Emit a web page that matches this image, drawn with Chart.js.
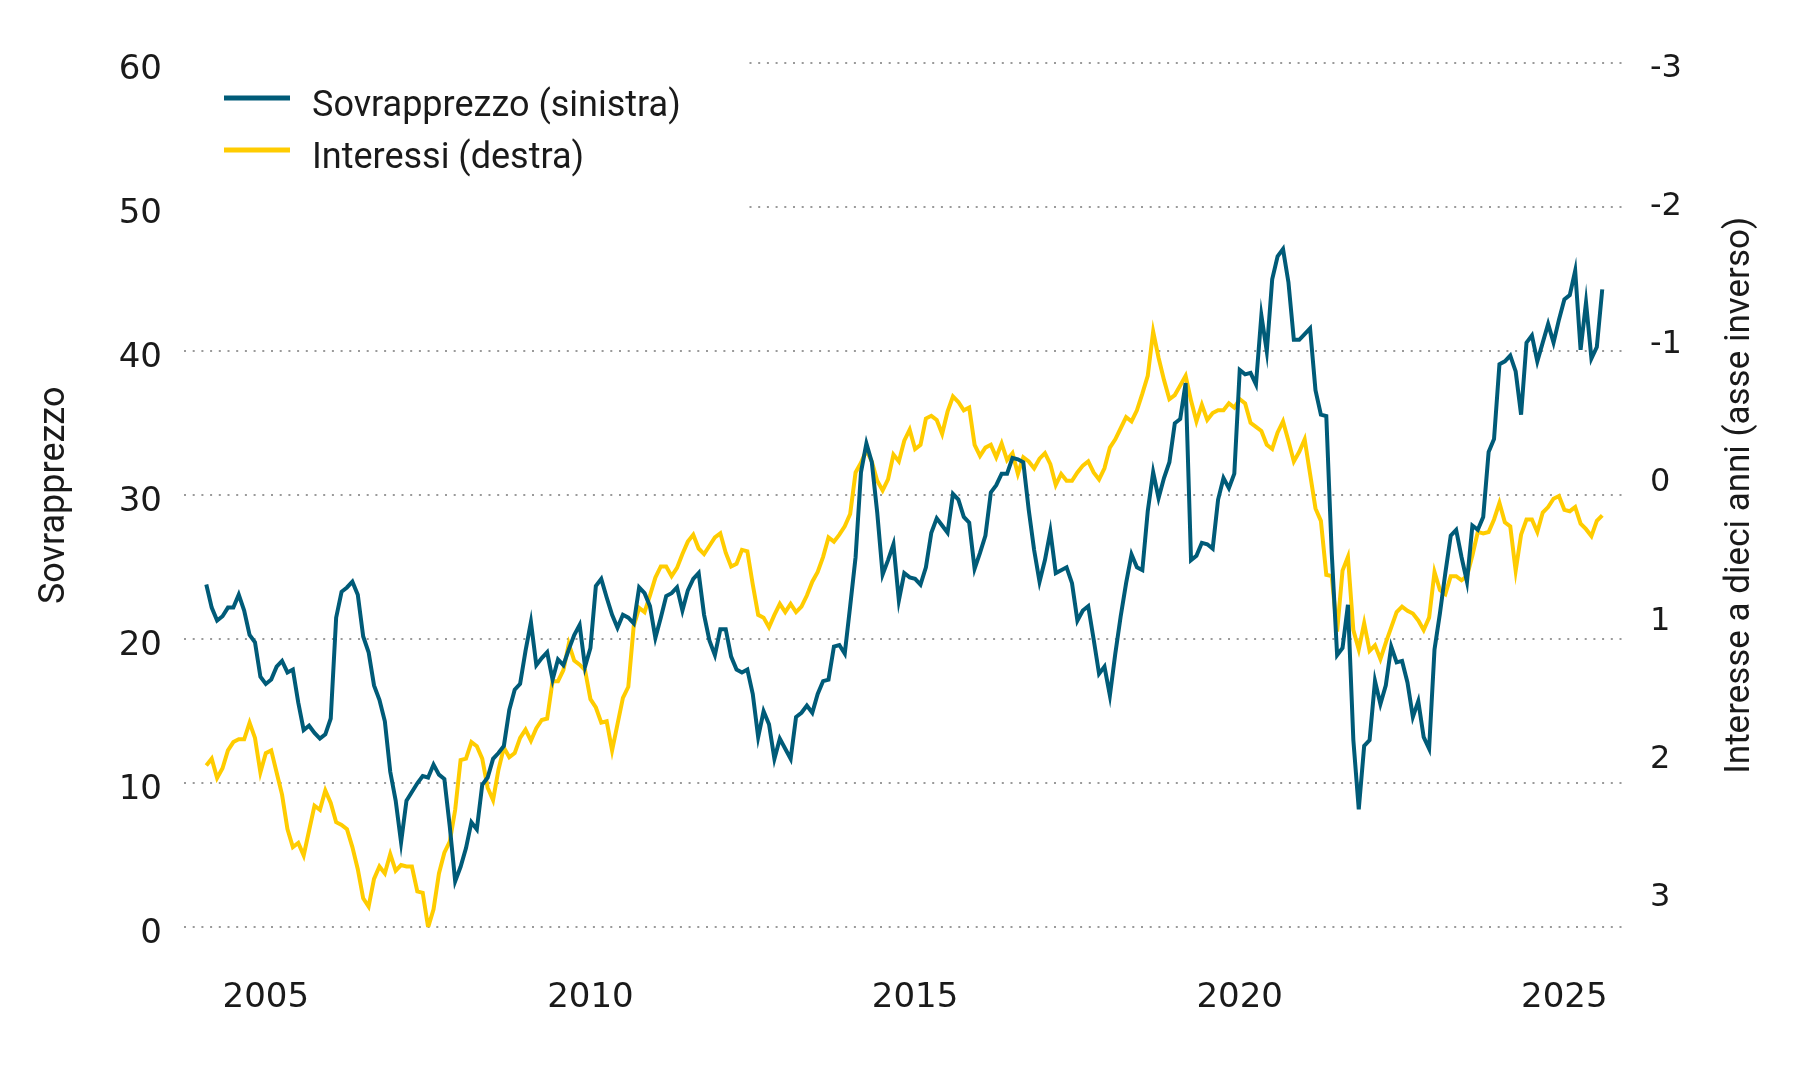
<!DOCTYPE html>
<html>
<head>
<meta charset="utf-8">
<script src="https://cdn.jsdelivr.net/npm/chart.js@4.4.1/dist/chart.umd.min.js"></script>
<style>
  html, body { margin: 0; padding: 0; background: #fff; }
</style>
</head>
<body>
<canvas id="myChart" width="1800" height="1080"></canvas>
<script>
// monthly series, Feb 2004 - Aug 2025
const startYear = 2004;
const startMonth = 2;

const sovrapprezzo = [
  23.8, 22.2, 21.3, 21.6, 22.2, 22.2, 23.1, 22.0, 20.3, 19.8, 17.4, 16.9,
  17.2, 18.1, 18.5, 17.7, 17.9, 15.6, 13.7, 14.0, 13.5, 13.1, 13.4, 14.5,
  21.5, 23.3, 23.6, 24.0, 23.1, 20.2, 19.1, 16.8, 15.8, 14.3, 10.8, 8.8,
  5.9, 8.8, 9.4, 10.0, 10.5, 10.4, 11.3, 10.6, 10.3, 7.0, 3.2, 4.2,
  5.5, 7.3, 6.8, 9.9, 10.4, 11.7, 12.1, 12.6, 15.1, 16.5, 16.9, 19.2,
  21.2, 18.2, 18.7, 19.1, 17.2, 18.6, 18.2, 19.3, 20.3, 21.0, 18.1, 19.4,
  23.7, 24.2, 22.9, 21.7, 20.8, 21.7, 21.5, 21.1, 23.6, 23.2, 22.3, 20.1,
  21.5, 23.0, 23.2, 23.6, 22.0, 23.4, 24.2, 24.6, 21.7, 19.9, 18.9, 20.7,
  20.7, 18.8, 17.9, 17.7, 17.9, 16.2, 13.2, 15.0, 14.1, 11.7, 13.1, 12.4,
  11.7, 14.6, 14.9, 15.4, 14.9, 16.2, 17.1, 17.2, 19.5, 19.6, 19.0, 22.3,
  25.7, 31.6, 33.6, 32.3, 28.8, 24.5, 25.5, 26.6, 22.7, 24.6, 24.3, 24.2,
  23.8, 25.0, 27.4, 28.4, 27.9, 27.4, 30.1, 29.7, 28.5, 28.1, 24.9, 26.0,
  27.2, 30.2, 30.7, 31.5, 31.5, 32.6, 32.5, 32.3, 29.0, 26.2, 24.0, 25.5,
  27.5, 24.6, 24.8, 25.0, 23.9, 21.3, 22.0, 22.3, 20.0, 17.6, 18.1, 16.1,
  19.0, 21.6, 23.9, 25.9, 25.0, 24.8, 28.9, 31.6, 29.8, 31.2, 32.3, 35.0,
  35.3, 37.8, 25.5, 25.8, 26.7, 26.6, 26.3, 29.7, 31.2, 30.5, 31.5, 38.7,
  38.4, 38.5, 37.7, 42.5, 40.0, 45.0, 46.6, 47.1, 44.8, 40.8, 40.8, 41.2,
  41.6, 37.3, 35.6, 35.5, 26.0, 18.9, 19.4, 22.4, 13.0, 8.2, 12.6, 13.0,
  17.1, 15.5, 16.8, 19.5, 18.4, 18.5, 17.0, 14.6, 15.7, 13.2, 12.4, 19.3,
  21.8, 24.6, 27.2, 27.6, 25.7, 24.0, 27.9, 27.6, 28.5, 33.0, 33.9, 39.1,
  39.3, 39.7, 38.6, 35.6, 40.6, 41.1, 39.3, 40.6, 41.9, 40.6, 42.2, 43.6,
  43.9, 45.6, 40.1, 43.4, 39.5, 40.3, 44.3
];

const interessi = [
  2.05, 2.00, 2.14, 2.07, 1.94, 1.88, 1.86, 1.86, 1.74, 1.85, 2.10, 1.96,
  1.94, 2.10, 2.26, 2.51, 2.64, 2.61, 2.70, 2.52, 2.34, 2.37, 2.23, 2.32,
  2.46, 2.48, 2.51, 2.64, 2.80, 3.01, 3.07, 2.87, 2.78, 2.83, 2.69, 2.81,
  2.77, 2.78, 2.78, 2.96, 2.97, 3.22, 3.09, 2.83, 2.68, 2.60, 2.37, 2.01,
  2.00, 1.88, 1.91, 2.00, 2.21, 2.30, 2.08, 1.92, 1.99, 1.96, 1.85, 1.79,
  1.87, 1.78, 1.72, 1.71, 1.44, 1.44, 1.36, 1.17, 1.29, 1.32, 1.36, 1.57,
  1.63, 1.74, 1.73, 1.94, 1.75, 1.56, 1.48, 1.04, 0.91, 0.94, 0.82, 0.69,
  0.61, 0.61, 0.68, 0.62, 0.52, 0.43, 0.38, 0.48, 0.52, 0.46, 0.40, 0.37,
  0.51, 0.61, 0.59, 0.49, 0.50, 0.74, 0.96, 0.98, 1.05, 0.96, 0.88, 0.94,
  0.88, 0.94, 0.90, 0.82, 0.72, 0.65, 0.54, 0.40, 0.43, 0.38, 0.32, 0.23,
  -0.07, -0.14, -0.23, -0.15, -0.01, 0.06, -0.02, -0.20, -0.15, -0.30, -0.38, -0.24,
  -0.27, -0.46, -0.48, -0.45, -0.35, -0.51, -0.62, -0.58, -0.52, -0.54, -0.27, -0.19,
  -0.25, -0.27, -0.18, -0.28, -0.16, -0.21, -0.06, -0.18, -0.15, -0.10, -0.17, -0.21,
  -0.13, 0.02, -0.06, -0.01, -0.01, -0.07, -0.12, -0.15, -0.07, -0.02, -0.10, -0.25,
  -0.31, -0.39, -0.47, -0.44, -0.52, -0.64, -0.77, -1.09, -0.90, -0.74, -0.60, -0.63,
  -0.70, -0.77, -0.59, -0.44, -0.56, -0.45, -0.50, -0.52, -0.52, -0.57, -0.54, -0.60,
  -0.57, -0.43, -0.40, -0.37, -0.27, -0.24, -0.36, -0.44, -0.30, -0.15, -0.22, -0.31,
  -0.06, 0.19, 0.28, 0.67, 0.68, 1.08, 0.64, 0.54, 1.07, 1.21, 1.02, 1.22,
  1.18, 1.28, 1.16, 1.05, 0.94, 0.90, 0.93, 0.95, 1.00, 1.07, 0.98, 0.65,
  0.78, 0.81, 0.68, 0.68, 0.71, 0.68, 0.53, 0.36, 0.37, 0.36, 0.27, 0.15,
  0.29, 0.32, 0.64, 0.38, 0.27, 0.27, 0.36, 0.22, 0.18, 0.12, 0.10, 0.20,
  0.21, 0.18, 0.30, 0.34, 0.39, 0.28, 0.24
];

const yearTicks = [2005, 2010, 2015, 2020, 2025];
const leftTicks = [0, 10, 20, 30, 40, 50, 60];
const rightTicks = [3, 2, 1, 0, -1, -2, -3];

const seriesNames = ['Sovrapprezzo (sinistra)', 'Interessi (destra)'];
const leftTitle = 'Sovrapprezzo';
const rightTitle = 'Interesse a dieci anni (asse inverso)';

const BLUE = '#005b78';
const YELLOW = '#ffcc00';
const TEXT = '#1a1a1a';

// month index -> decimal year
const months = sovrapprezzo.map((_, i) => startYear + (startMonth - 1 + i) / 12);

const bigTickFont = { family: 'DejaVu Sans', size: 34 };
const rightTickFont = { family: 'DejaVu Sans', size: 32 };

const overlay = {
  id: 'overlay',
  beforeDatasetsDraw(chart) {
    const { ctx, chartArea, scales } = chart;
    ctx.save();
    // the legend box hides the top grid lines on the left
    ctx.fillStyle = '#fff';
    const yBottom = scales.y.getPixelForValue(45);
    ctx.fillRect(chartArea.left - 2, chartArea.top - 6, 746 - chartArea.left, yBottom - chartArea.top + 6);

    ctx.font = '36px Roboto';
    ctx.textBaseline = 'alphabetic';
    ctx.textAlign = 'left';
    const colors = [BLUE, YELLOW];
    const baselines = [116, 168];
    seriesNames.forEach((name, k) => {
      ctx.strokeStyle = colors[k];
      ctx.lineWidth = 5;
      ctx.beginPath();
      ctx.moveTo(224, baselines[k] - 18);
      ctx.lineTo(290, baselines[k] - 18);
      ctx.stroke();
      ctx.fillStyle = TEXT;
      ctx.fillText(name, 312, baselines[k]);
    });
    ctx.restore();
  },
  afterDraw(chart) {
    const { ctx, chartArea } = chart;
    ctx.save();
    ctx.translate(1740, (chartArea.top + chartArea.bottom) / 2);
    ctx.rotate(-Math.PI / 2);
    ctx.font = '35px Roboto';
    ctx.fillStyle = TEXT;
    ctx.textAlign = 'center';
    ctx.textBaseline = 'middle';
    ctx.fillText(rightTitle, 0, 0);
    ctx.restore();
  }
};

const ctx = document.getElementById('myChart');
const myChart = new Chart(ctx, {
  type: 'line',
  data: {
    datasets: [{
      label: seriesNames[0],
      data: months.map((x, i) => ({ x: x, y: sovrapprezzo[i] })),
      borderColor: BLUE,
      borderWidth: 4,
      pointRadius: 0,
      yAxisID: 'y'
    }, {
      label: seriesNames[1],
      data: months.map((x, i) => ({ x: x, y: interessi[i] })),
      borderColor: YELLOW,
      borderWidth: 4,
      pointRadius: 0,
      yAxisID: 'y2'
    }]
  },
  options: {
    responsive: false,
    animation: false,
    devicePixelRatio: 1,
    layout: { padding: { top: 63.3, left: 0, right: 0, bottom: 0 } },
    plugins: {
      legend: { display: false },
      tooltip: { enabled: false }
    },
    scales: {
      x: {
        type: 'linear',
        bounds: 'data',
        min: 2003.74,
        max: 2025.98,
        grid: { display: false },
        border: { display: false },
        afterBuildTicks: s => { s.ticks = yearTicks.map(v => ({ value: v })); },
        afterFit: s => { s.height = 152.7; },
        ticks: {
          font: bigTickFont,
          color: TEXT,
          padding: 42,
          maxRotation: 0,
          autoSkip: false,
          callback: v => String(v)
        }
      },
      y: {
        position: 'left',
        bounds: 'data',
        min: 0,
        max: 60,
        afterBuildTicks: s => { s.ticks = leftTicks.map(v => ({ value: v })); },
        afterFit: s => { s.width = 184; },
        grid: { color: '#9a9a9a', lineWidth: 2, drawTicks: false },
        border: { display: false, dash: [2, 6.7] },
        ticks: { font: bigTickFont, color: TEXT, padding: 22, labelOffset: 7 },
        title: {
          display: true,
          text: leftTitle,
          font: { family: 'Roboto', size: 36 },
          color: TEXT,
          padding: { top: 33.5, bottom: 0 }
        }
      },
      y2: {
        position: 'right',
        bounds: 'data',
        reverse: true,
        min: -3.03,
        max: 3.22,
        afterBuildTicks: s => { s.ticks = rightTicks.map(v => ({ value: v })); },
        afterFit: s => { s.width = 172; },
        grid: { display: false, drawTicks: false },
        border: { display: false },
        ticks: { font: rightTickFont, color: TEXT, padding: 22, labelOffset: 1 }
      }
    }
  },
  plugins: [overlay]
});
</script>
</body>
</html>
